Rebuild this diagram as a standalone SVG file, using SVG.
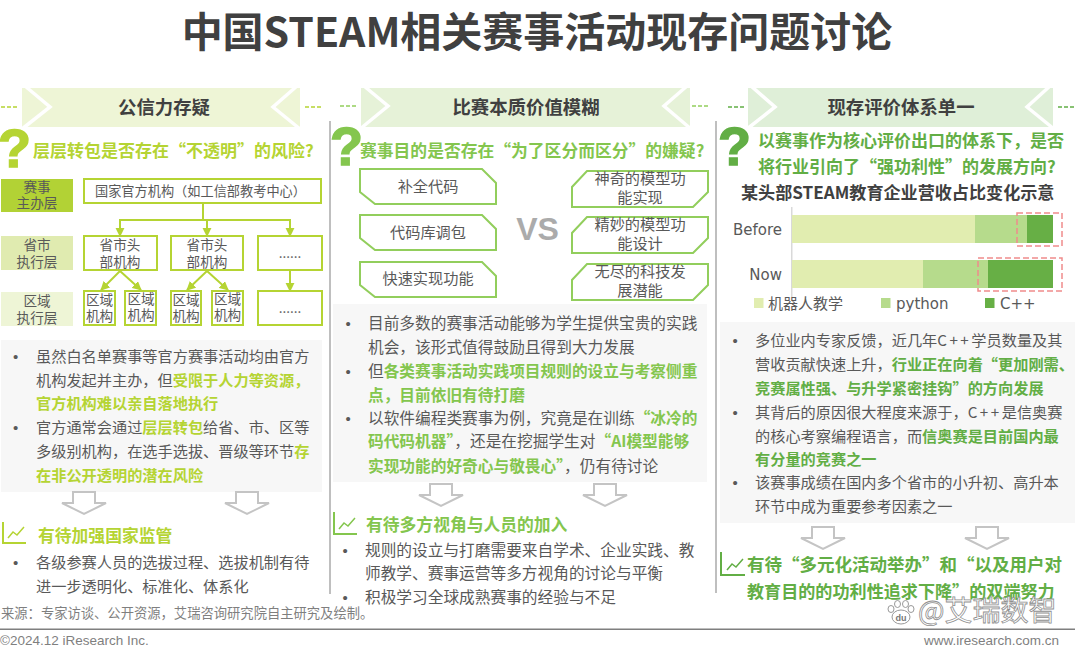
<svg xmlns="http://www.w3.org/2000/svg" width="1080" height="649" viewBox="0 0 1080 649">
<style>
text{font-family:"Noto Sans CJK SC","Liberation Sans",sans-serif;fill:#595959}
.title{font-size:41px;font-weight:700;fill:#404040;text-anchor:middle}
.hd{font-size:18.4px;font-weight:700;fill:#404040;text-anchor:middle}
.body{font-size:15.2px}
.wide{font-size:15.7px}
.bul{font-family:"Liberation Sans",sans-serif;font-size:15px}
.b{font-weight:700}
.g1{fill:#B5D433}.g2{fill:#84C64E}.g3{fill:#62AE45}
.q{font-size:16.8px;font-weight:700}
.qm{font-family:"Liberation Sans",sans-serif;font-size:54px;font-weight:700;stroke-width:1.5}
.nd{font-size:13.6px;text-anchor:middle}
.hx{font-size:15.2px;text-anchor:middle}
.lay{font-size:13.6px;text-anchor:middle}
.box1{fill:#fff;stroke:#B5D433;stroke-width:2}
.box2{fill:#fff;stroke:#92CE5C;stroke-width:2}
.chev{fill:none;stroke:#fff;stroke-width:3.5}
.dash{stroke-width:1.5;stroke-dasharray:4 2;fill:none}
.conn{fill:none;stroke:#B5D433;stroke-width:2}
.big{fill:#fff;stroke:#C4C4C4;stroke-width:2}
.cl{font-family:"DejaVu Sans",sans-serif;font-size:15px;text-anchor:end}
.red{fill:none;stroke:#F08C8C;stroke-width:1.5;stroke-dasharray:6 3}
.ft{font-family:"Liberation Sans",sans-serif;font-size:13.5px;fill:#7F7F7F}
.wm{font-size:28px;fill:#fff;stroke:#8f8f8f;stroke-width:.8}
.cpp{letter-spacing:2.5px}
</style>
<defs>
<marker id="ah" viewBox="0 0 10 10" refX="9" refY="5" markerWidth="4.6" markerHeight="4.6" orient="auto"><path d="M0 0L10 5L0 10Z" fill="#B5D433"/></marker>
<path id="bigArrow" d="M-11 0H11V11H22L0 22L-22 11H-11Z"/>
<polygon id="hl" points="0,0 122,0 136,14 136,35 15,35 0,23"/>
<polygon id="hr" points="15,0 136,0 136,21 121,36 0,36 0,16"/>
</defs>
<rect width="1080" height="649" fill="#fff"/>
<text class="title" x="537" y="47">中国STEAM相关赛事活动现存问题讨论</text>

<g id="dividers" fill="#BFBFBF">
<rect x="329" y="121" width="2" height="473"/>
<rect x="715" y="121" width="2" height="472"/>
</g>

<g id="header1">
<rect x="22" y="88" width="278" height="39" fill="#EEF5D6"/>
<polyline class="chev" points="25,86 50,107 22,129"/>
<polyline class="chev" points="297,86 273,107 300,129"/>
<path class="dash" stroke="#B5D433" d="M1 107H18M305 107H322"/>
<text class="hd" x="164" y="114">公信力存疑</text>
</g>
<g id="header2">
<rect x="361" y="88" width="329" height="39" fill="#E6F2D8"/>
<polyline class="chev" points="364,86 388,106 360,129"/>
<polyline class="chev" points="687,86 664,106 691,129"/>
<path class="dash" stroke="#92CE5C" d="M340 106H357M692 106H708"/>
<text class="hd" x="526" y="114">比赛本质价值模糊</text>
</g>
<g id="header3">
<rect x="748" y="88" width="305" height="39" fill="#DFEFD8"/>
<polyline class="chev" points="751,86 775,107 747,129"/>
<polyline class="chev" points="1050,86 1027,107 1054,129"/>
<path class="dash" stroke="#62AE45" d="M728 107H745M1058 107H1075"/>
<text class="hd" x="901" y="114">现存评价体系单一</text>
</g>

<g id="question1">
<text class="qm g1" stroke="#B5D433" x="-2" y="167">?</text>
<text class="q g1" style="font-size:17px" x="33" y="157">层层转包是否存在“不透明”的风险?</text>
</g>
<g id="question2">
<text class="qm g2" stroke="#84C64E" x="330" y="165">?</text>
<text class="q g2" x="360" y="157">赛事目的是否存在“为了区分而区分”的嫌疑?</text>
</g>
<g id="question3">
<text class="qm g3" stroke="#62AE45" x="718" y="165">?</text>
<text class="q g3" style="font-size:17px" x="758" y="147">以赛事作为核心评价出口的体系下，是否</text>
<text class="q g3" style="font-size:17px" x="758" y="173">将行业引向了“强功利性”的发展方向?</text>
</g>

<g id="layer-host"><rect x="1" y="179" width="72" height="33" fill="#B2D235"/><text class="lay" x="37" y="192">赛事</text><text class="lay" x="37" y="208">主办层</text></g>
<g id="layer-prov"><rect x="1" y="236" width="72" height="34" fill="#E0EBB0"/><text class="lay" x="37" y="250">省市</text><text class="lay" x="37" y="267">执行层</text></g>
<g id="layer-region"><rect x="1" y="292" width="72" height="34" fill="#EEF5D6"/><text class="lay" x="37" y="306">区域</text><text class="lay" x="37" y="323">执行层</text></g>

<g id="tree-connectors">
<path class="conn" d="M203 204V220"/>
<path class="conn" d="M119 220H291"/>
<path class="conn" marker-end="url(#ah)" d="M120 220V236"/>
<path class="conn" marker-end="url(#ah)" d="M207 220V236"/>
<path class="conn" marker-end="url(#ah)" d="M290 220V236"/>
<path class="conn" marker-end="url(#ah)" d="M120 271L101 290"/>
<path class="conn" marker-end="url(#ah)" d="M120 271L141 290"/>
<path class="conn" marker-end="url(#ah)" d="M207 271L187 290"/>
<path class="conn" marker-end="url(#ah)" d="M207 271L228 290"/>
<path class="conn" marker-end="url(#ah)" d="M290 270V291"/>
</g>

<g id="node-national"><rect class="box1" x="84" y="179" width="237" height="24"/><text x="95" y="196" font-size="13.2">国家官方机构（如工信部教考中心）</text></g>
<g id="node-prov1"><rect class="box1" x="84" y="236" width="73" height="34"/><text class="nd" x="120" y="250">省市头</text><text class="nd" x="120" y="267">部机构</text></g>
<g id="node-prov2"><rect class="box1" x="171" y="236" width="72" height="34"/><text class="nd" x="207" y="250">省市头</text><text class="nd" x="207" y="267">部机构</text></g>
<g id="node-prov3"><rect class="box1" x="258" y="236" width="64" height="34"/><text class="nd" x="290" y="258">......</text></g>
<g id="node-r1"><rect class="box1" x="84" y="291" width="31" height="34"/><text class="nd" x="99.500" y="305">区域</text><text class="nd" x="99.500" y="321">机构</text></g>
<g id="node-r2"><rect class="box1" x="125" y="291" width="31" height="34"/><text class="nd" x="141" y="304">区域</text><text class="nd" x="141" y="320">机构</text></g>
<g id="node-r3"><rect class="box1" x="171" y="291" width="30" height="34"/><text class="nd" x="186" y="305">区域</text><text class="nd" x="186" y="321">机构</text></g>
<g id="node-r4"><rect class="box1" x="212" y="291" width="31" height="34"/><text class="nd" x="227.500" y="304">区域</text><text class="nd" x="227.500" y="320">机构</text></g>
<g id="node-r5"><rect class="box1" x="258" y="291" width="64" height="34"/><text class="nd" x="290" y="313">......</text></g>

<g id="hex-l1"><use href="#hl" x="360" y="169" class="box2"/><text class="hx" x="428" y="192">补全代码</text></g>
<g id="hex-l2"><use href="#hl" x="360" y="215" class="box2"/><text class="hx" x="428" y="238">代码库调包</text></g>
<g id="hex-l3"><use href="#hl" x="360" y="262" class="box2"/><text class="hx" x="428" y="284">快速实现功能</text></g>
<g id="hex-r1"><use href="#hr" x="572" y="171" class="box2"/><text class="hx" x="640" y="184">神奇的模型功</text><text class="hx" x="640" y="203">能实现</text></g>
<g id="hex-r2"><use href="#hr" x="572" y="217" class="box2"/><text class="hx" x="640" y="230">精妙的模型功</text><text class="hx" x="640" y="249">能设计</text></g>
<g id="hex-r3"><use href="#hr" x="572" y="264" class="box2"/><text class="hx" x="640" y="277">无尽的科技发</text><text class="hx" x="640" y="296">展潜能</text></g>
<text x="537.500" y="240" font-size="32" font-weight="700" text-anchor="middle" style="font-family:'Liberation Sans',sans-serif;fill:#ABABAB">VS</text>

<g id="chart">
<text class="q" x="741" y="199" style="fill:#404040;font-size:17.100px">某头部STEAM教育企业营收占比变化示意</text>
<rect x="791" y="207" width="1.500" height="90" fill="#D9D9D9"/>
<rect x="792" y="215" width="183" height="28" fill="#E1EDB0"/><rect x="975" y="215" width="52" height="28" fill="#B6DB8C"/><rect x="1027" y="215" width="26" height="28" fill="#67AF45"/>
<rect x="792" y="260" width="131" height="28" fill="#E1EDB0"/><rect x="923" y="260" width="65" height="28" fill="#B6DB8C"/><rect x="988" y="260" width="65" height="28" fill="#67AF45"/>
<rect class="red" x="1017" y="213" width="45" height="33"/>
<rect class="red" x="978" y="258" width="84" height="33"/>
<text class="cl" x="782" y="235">Before</text>
<text class="cl" x="782" y="280">Now</text>
<rect x="754" y="298" width="9.500" height="10" fill="#E1EDB0"/><text x="768" y="309" font-size="15">机器人教学</text>
<rect x="881" y="298" width="9.500" height="10" fill="#B6DB8C"/><text x="896" y="309" style="font-family:'DejaVu Sans',sans-serif;font-size:15px">python</text>
<rect x="985" y="298" width="9.500" height="10" fill="#67AF45"/><text x="1000" y="309" style="font-family:'DejaVu Sans',sans-serif;font-size:15px">C++</text>
</g>

<rect x="1" y="340" width="321" height="152" fill="#F7F7F7"/>
<rect x="333" y="304" width="374" height="178" fill="#F7F7F7"/>
<rect x="720" y="322" width="355" height="201" fill="#F7F7F7"/>

<g id="text1">
<text class="bul" x="13" y="362">•</text><text class="body" x="36" y="362">虽然白名单赛事等官方赛事活动均由官方</text>
<text class="body" x="36" y="386">机构发起并主办，但<tspan class="b g1">受限于人力等资源，</tspan></text>
<text class="body b g1" x="36" y="409">官方机构难以亲自落地执行</text>
<text class="bul" x="13" y="433">•</text><text class="body" x="36" y="433">官方通常会通过<tspan class="b g1">层层转包</tspan>给省、市、区等</text>
<text class="body" x="36" y="457">多级别机构，在选手选拔、晋级等环节<tspan class="b g1">存</tspan></text>
<text class="body b g1" x="36" y="481">在非公开透明的潜在风险</text>
</g>
<g id="text2">
<text class="bul" x="345.500" y="329">•</text><text class="wide" x="368" y="329">目前多数的赛事活动能够为学生提供宝贵的实践</text>
<text class="wide" x="368" y="353">机会，该形式值得鼓励且得到大力发展</text>
<text class="bul" x="345.500" y="377">•</text><text class="wide" x="368" y="377">但<tspan class="b g2">各类赛事活动实践项目规则的设立与考察侧重</tspan></text>
<text class="wide b g2" x="368" y="401">点，目前依旧有待打磨</text>
<text class="bul" x="345.500" y="424">•</text><text class="wide" x="368" y="424">以软件编程类赛事为例，究竟是在训练<tspan class="b g2">“冰冷的</tspan></text>
<text class="wide" x="368" y="447"><tspan class="b g2">码代码机器”</tspan>，还是在挖掘学生对<tspan class="b g2">“AI模型能够</tspan></text>
<text class="wide" x="368" y="472"><tspan class="b g2">实现功能的好奇心与敬畏心”</tspan>，仍有待讨论</text>
</g>
<g id="text3">
<text class="bul" x="732.500" y="346">•</text><text class="body" x="755" y="346">多位业内专家反馈，近几年<tspan class="cpp">C++</tspan>学员数量及其</text>
<text class="body" x="755" y="370">营收贡献快速上升，<tspan class="b g3">行业正在向着“更加刚需、</tspan></text>
<text class="body" x="755" y="394"><tspan class="b g3">竞赛属性强、与升学紧密挂钩”的方向发展</tspan></text>
<text class="bul" x="732.500" y="418">•</text><text class="body" x="755" y="418">其背后的原因很大程度来源于，<tspan class="cpp">C++</tspan>是信奥赛</text>
<text class="body" x="755" y="442">的核心考察编程语言，而<tspan class="b g3">信奥赛是目前国内最</tspan></text>
<text class="body b g3" x="755" y="465">有分量的竞赛之一</text>
<text class="bul" x="732.500" y="488">•</text><text class="body" x="755" y="488">该赛事成绩在国内多个省市的小升初、高升本</text>
<text class="body" x="755" y="512">环节中成为重要参考因素之一</text>
</g>

<g id="down-arrows" class="big">
<use href="#bigArrow" x="84" y="492"/><use href="#bigArrow" x="247" y="492"/>
<use href="#bigArrow" x="441" y="484"/><use href="#bigArrow" x="605" y="484"/>
<use href="#bigArrow" x="823" y="527"/><use href="#bigArrow" x="987" y="527"/>
</g>

<g id="icon1" fill="none" stroke="#B5D433"><path stroke-width="2" d="M3 522V543H26"/><path stroke-width="1.500" d="M8 538L13 532L17 535L24 527"/></g>
<g id="icon2" fill="none" stroke="#84C64E"><path stroke-width="2" d="M334 512V534H357"/><path stroke-width="1.500" d="M339 529L344 523L348 526L355 518"/></g>
<g id="icon3" fill="none" stroke="#62AE45"><path stroke-width="2" d="M721 552V575H745"/><path stroke-width="1.500" d="M727 570L732 564L736 567L743 559"/></g>

<g id="concl1">
<text class="q g1" x="38" y="542">有待加强国家监管</text>
<text class="bul" x="13" y="568">•</text><text class="body" x="36" y="568">各级参赛人员的选拔过程、选拔机制有待</text>
<text class="body" x="36" y="592">进一步透明化、标准化、体系化</text>
</g>
<g id="concl2">
<text class="q g2" x="366" y="531">有待多方视角与人员的加入</text>
<text class="bul" x="342.500" y="556">•</text><text class="wide" x="365" y="556">规则的设立与打磨需要来自学术、企业实践、教</text>
<text class="wide" x="365" y="579">师教学、赛事运营等多方视角的讨论与平衡</text>
<text class="bul" x="342.500" y="603">•</text><text class="wide" x="365" y="603">积极学习全球成熟赛事的经验与不足</text>
</g>
<g id="concl3">
<text class="q g3" style="font-size:17.500px" x="747" y="571">有待“多元化活动举办”和“以及用户对</text>
<text class="q g3" style="font-size:17.100px" x="747" y="598">教育目的的功利性追求下降”的双端努力</text>
</g>

<text x="1" y="618" font-size="13.300" style="fill:#7F7F7F">来源：专家访谈、公开资源，艾瑞咨询研究院自主研究及绘制。</text>
<rect x="0" y="628.500" width="1075" height="1.500" fill="#7F7F7F"/>
<text class="ft" x="0" y="645">©2024.12 iResearch Inc.</text>
<text class="ft" x="1059" y="645" text-anchor="end">www.iresearch.com.cn</text>

<g id="watermark">
<g fill="#fff" stroke="#999" stroke-width="1"><ellipse cx="891" cy="609" rx="3" ry="3.500"/><ellipse cx="897.500" cy="604" rx="3" ry="3.500"/><ellipse cx="905.500" cy="604" rx="3" ry="3.500"/><ellipse cx="911" cy="609" rx="3" ry="3.500"/><ellipse cx="901" cy="617" rx="9" ry="7"/></g>
<text x="901" y="621" font-size="9" text-anchor="middle" style="fill:#777;font-family:'Liberation Sans',sans-serif;font-weight:700">du</text>
<text class="wm" x="918" y="621">@艾瑞数智</text>
</g>
</svg>
